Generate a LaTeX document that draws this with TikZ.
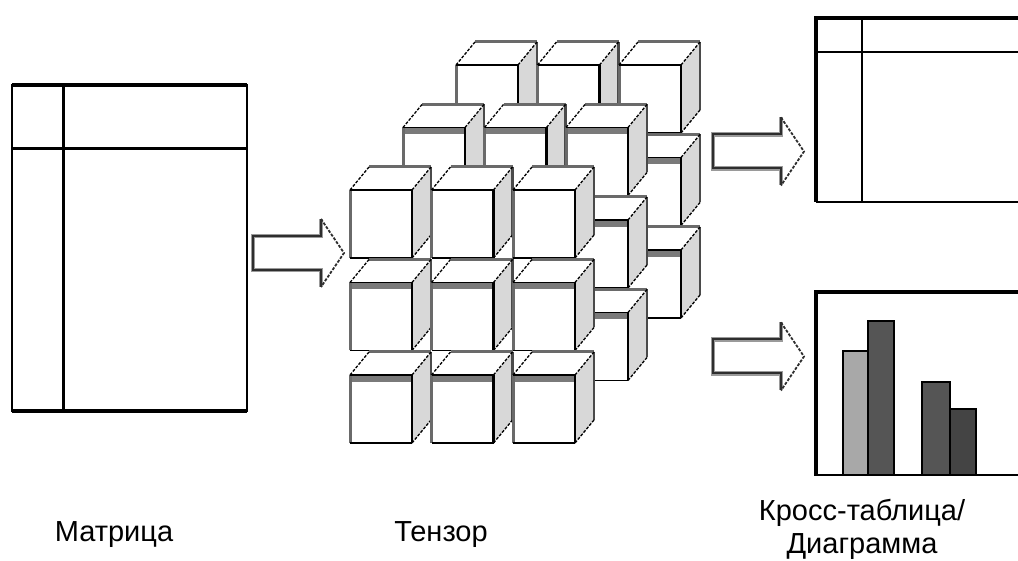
\documentclass[tikz,border=0pt]{standalone}
\usepackage{fontspec}
\setmainfont{Liberation Sans}
\definecolor{rightgray}{HTML}{D8D8D8}
\definecolor{bandgray}{HTML}{7A7A7A}
\definecolor{edgegray}{HTML}{6A6A6A}
\definecolor{backgray}{HTML}{4A4A4A}
\definecolor{arrowdark}{HTML}{2E2E2E}
\definecolor{arrowhalo}{HTML}{9A9A9A}
\definecolor{barlight}{HTML}{A8A8A8}
\definecolor{bardark}{HTML}{555555}
\definecolor{bardarker}{HTML}{444444}
\newcommand\cubeat[3]{%
  \begin{scope}[shift={(#1,#2)}]
    \fill[rightgray] (62,0)--(81,-23)--(81,45)--(62,68)--cycle;
    \fill[white] (0,0)--(19,-23)--(81,-23)--(62,0)--cycle;
    \fill[white] (0,0) rectangle (62,68);
    \ifnum#3=1 \fill[bandgray] (0,0) rectangle (62,7);\fi
    \draw[cubeshadow] (0,68)--(0,0);
    \draw[cubeshadow] (19,-23)--(81,-23);
    \draw[cubeback] (81,-23)--(81,45);
    \draw[cubeedge] (0,0)--(62,0);
    \draw[cubeedge] (0,68)--(62,68);
    \draw[cubefront] (62,0)--(62,68);
    \draw[cubediag] (0,0)--(19,-23) (62,0)--(81,-23) (62,68)--(81,45);
  \end{scope}}
\newcommand\blockarrow[2]{%
  \begin{scope}[shift={(#1,#2)}]
    \fill[white] (0,-17)--(68,-17)--(68,-34)--(91,0)--(68,34)--(68,17)--(0,17)--cycle;
    \draw[arrowback] (68,-34)--(68,-17)--(0,-17)--(0,17)--(68,17)--(68,34);
    \draw[arrowfront] (68,-34)--(68,-17)--(0,-17)--(0,17)--(68,17)--(68,34);
    \draw[arrowhead] (68,-34)--(91,0)--(68,34);
  \end{scope}}
\begin{document}
\begin{tikzpicture}[x=1pt,y=-1pt,
  cubeshadow/.style={edgegray,line width=3},
  cubeback/.style={backgray,line width=2.5},
  cubeedge/.style={black,line width=1.4},
  cubefront/.style={black,line width=2.6},
  cubediag/.style={black,line width=1.3,dash pattern=on 3pt off 1.5pt},
  arrowback/.style={arrowhalo,line width=4.5,line join=miter},
  arrowfront/.style={arrowdark,line width=2,line join=miter},
  arrowhead/.style={arrowdark,line width=1.8,dash pattern=on 3pt off 1.5pt},
  thickrule/.style={black,line width=3.5},
  midrule/.style={black,line width=2.2},
  thinrule/.style={black,line width=1.7},
  bar/.style={draw=black,line width=2},
  lbl/.style={font=\fontsize{29}{33}\selectfont,inner sep=0pt}]
\useasboundingbox (0,0) rectangle (1018,561);
\clip (0,0) rectangle (1018,561);
\fill[white] (0,0) rectangle (1018,561);

% matrix
\draw[midrule] (12,85) rectangle (247,411);
\draw[thickrule] (12,85)--(247,85) (12,411)--(247,411);
\draw[black,line width=3] (12,149)--(247,149) (63,85)--(63,411);

% arrows
\blockarrow{253}{253}
\blockarrow{713}{151.5}
\blockarrow{713}{356.5}

% tensor cubes
\foreach \k in {2,1,0}{
  \foreach \j in {0,1,2}{
    \foreach \i in {0,1,2}{
      \pgfmathsetmacro\cx{350+81.5*\i+53*\k}
      \pgfmathsetmacro\cy{190+92.5*\j-62.5*\k}
      \pgfmathtruncatemacro\bnd{or(\j>0,\k==1)}
      \cubeat{\cx}{\cy}{\bnd}
    }}}

% cross table
\draw[thickrule] (1030,18)--(816,18)--(816,202);
\draw[midrule] (816,202)--(1030,202);
\draw[thinrule] (816,52)--(1030,52) (862,18)--(862,202);

% chart
\draw[bar,fill=barlight] (843,475) rectangle (868,351);
\draw[bar,fill=bardark] (868,475) rectangle (894,321);
\draw[bar,fill=bardark] (922,475) rectangle (950,382);
\draw[bar,fill=bardarker] (950,475) rectangle (976,409);
\draw[thickrule] (1030,292)--(816,292)--(816,476);
\draw[black,line width=2.5] (816,475)--(1030,475);

% labels
\node[lbl,anchor=base] (matrixlbl) at (114,541) {Матрица};
\node[lbl,anchor=base] (tensorlbl) at (441,541) {Тензор};
\node[lbl,anchor=base] (crosslbl) at (862,520) {Кросс-таблица/};
\node[lbl,anchor=base] (chartlbl) at (862,553) {Диаграмма};
\end{tikzpicture}
\end{document}
